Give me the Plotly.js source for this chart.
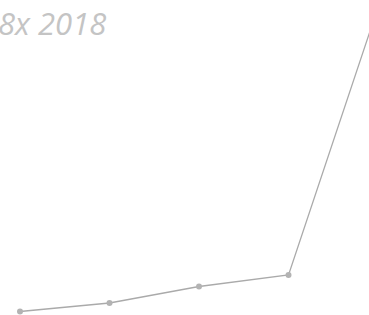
<!DOCTYPE html>
<html>
<head>
<meta charset="utf-8">
<script src="https://cdn.plot.ly/plotly-3.0.1.min.js"></script>
<style>html,body{margin:0;padding:0;background:#fff;}#chart{width:369px;height:315px;}</style>
</head>
<body>
<div id="chart"></div>
<script>
const categories = [0, 1, 2, 3, 4];
const values = [2.0, 2.5, 3.47, 4.15, 19.9];
const titleText = "8x 2018";

const trace = {
  x: categories,
  y: values,
  type: 'scatter',
  mode: 'lines+markers',
  line: {color: '#aaaaaa', width: 1.3},
  marker: {color: '#b3b3b3', size: 6},
  cliponaxis: false,
  hoverinfo: 'none'
};

const layout = {
  width: 369,
  height: 315,
  margin: {l: 0, r: 0, t: 0, b: 0},
  paper_bgcolor: '#ffffff',
  plot_bgcolor: '#ffffff',
  showlegend: false,
  annotations: [{
    text: '<i>' + titleText + '</i>',
    font: {family: 'Open Sans', size: 31, color: '#c4c4c4'},
    xref: 'paper', yref: 'paper',
    x: -0.012, xanchor: 'left',
    y: 0.927, yanchor: 'middle',
    showarrow: false
  }],
  xaxis: {visible: false, range: [-0.2235, 3.899], fixedrange: true},
  yaxis: {visible: false, range: [1.794, 20.324], fixedrange: true}
};

Plotly.newPlot('chart', [trace], layout, {displayModeBar: false, staticPlot: true});
</script>
</body>
</html>
